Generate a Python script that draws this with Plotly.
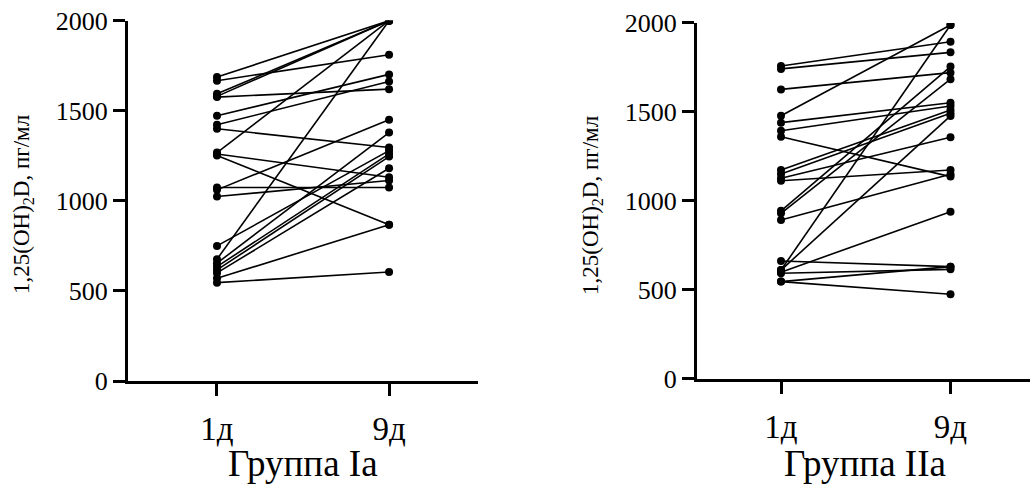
import plotly.graph_objects as go

categories = ["1д", "9д"]

# Group Ia: paired values (day 1 -> day 9)
ia_day1 = [1687, 1667, 1594, 1580, 1576, 1472, 1422, 1400, 1268, 1260, 1252,
           1074, 1061, 1024, 750, 676, 654, 635, 617, 600, 570, 546]
ia_day9 = [2000, 1811, 2000, 2000, 1620, 1702, 1663, 1296, 2000, 1131, 867,
           1074, 1450, 1113, 1279, 2000, 1379, 1261, 1246, 1181, 867, 605]

# Group IIa: paired values (day 1 -> day 9)
iia_day1 = [1758, 1742, 1627, 1479, 1440, 1395, 1361, 1174, 1152, 1128, 1114,
            945, 931, 893, 663, 612, 612, 600, 594, 547, 547]
iia_day9 = [1895, 1835, 1721, 1989, 1552, 1534, 1137, 1511, 1493, 1358, 1174,
            1755, 1684, 1150, 631, 1989, 1478, 940, 616, 631, 476]

yticks = [0, 500, 1000, 1500, 2000]
group_titles = ["Группа Ia", "Группа IIa"]
y_title = "1,25(OH)<sub>2</sub>D, пг/мл"

FONT = "Liberation Serif"
W, H = 1030, 486

fig = go.Figure()

def add_group(d1, d9, xa, ya):
    xs, ys = [], []
    for a, b in zip(d1, d9):
        xs += [0, 1, None]
        ys += [a, b, None]
    fig.add_trace(go.Scatter(
        x=xs, y=ys, mode="lines+markers", xaxis=xa, yaxis=ya,
        line=dict(color="black", width=1.6),
        marker=dict(color="black", size=8),
        showlegend=False, hoverinfo="skip"))

add_group(ia_day1, ia_day9, "x", "y")
add_group(iia_day1, iia_day9, "x2", "y2")

axis_common = dict(showline=True, linecolor="black", linewidth=3,
                   ticks="outside", tickcolor="black", tickwidth=3,
                   showgrid=False, zeroline=False, automargin=False)

xtickfont = dict(family=FONT, size=33, color="black")
ytickfont = dict(family=FONT, size=26, color="black")
xtitlefont = dict(family=FONT, size=37, color="black")
ytitlefont = dict(family=FONT, size=23, color="black")

fig.update_layout(
    width=W, height=H,
    margin=dict(l=0, r=0, t=0, b=0),
    paper_bgcolor="white", plot_bgcolor="white",
    font=dict(family=FONT, color="black"),
    xaxis=dict(domain=[0.1243, 0.4641], range=[-0.517, 1.517],
               tickvals=[0, 1], ticktext=categories, ticklen=12,
               tickfont=xtickfont, anchor="y", ticklabelstandoff=4,
               **axis_common),
    yaxis=dict(domain=[0.2160, 0.9574], range=[0, 2000], tickvals=yticks,
               ticklen=12, tickfont=ytickfont, anchor="x",
               **axis_common),
    xaxis2=dict(domain=[0.6767, 1.0], range=[-0.4956, 1.469],
                tickvals=[0, 1], ticktext=categories, ticklen=12,
                tickfont=xtickfont, anchor="y2", ticklabelstandoff=4,
                **axis_common),
    yaxis2=dict(domain=[0.2202, 0.9527], range=[0, 2000], tickvals=yticks,
                ticklen=12, tickfont=ytickfont, anchor="x2",
                **axis_common),
)

# axis titles as paper annotations (pixel positions -> paper fractions)
for cx, cy, txt in [(303, 463, group_titles[0]), (865, 463, group_titles[1])]:
    fig.add_annotation(text=txt, xref="paper", yref="paper",
                       x=cx / W, y=1 - cy / H, xanchor="center", yanchor="middle",
                       showarrow=False, font=xtitlefont)
for cx, cy in [(23, 205), (592, 205)]:
    fig.add_annotation(text=y_title, xref="paper", yref="paper",
                       x=cx / W, y=1 - cy / H, xanchor="center", yanchor="middle",
                       textangle=-90, showarrow=False, font=ytitlefont)

fig.write_html("out.html")
